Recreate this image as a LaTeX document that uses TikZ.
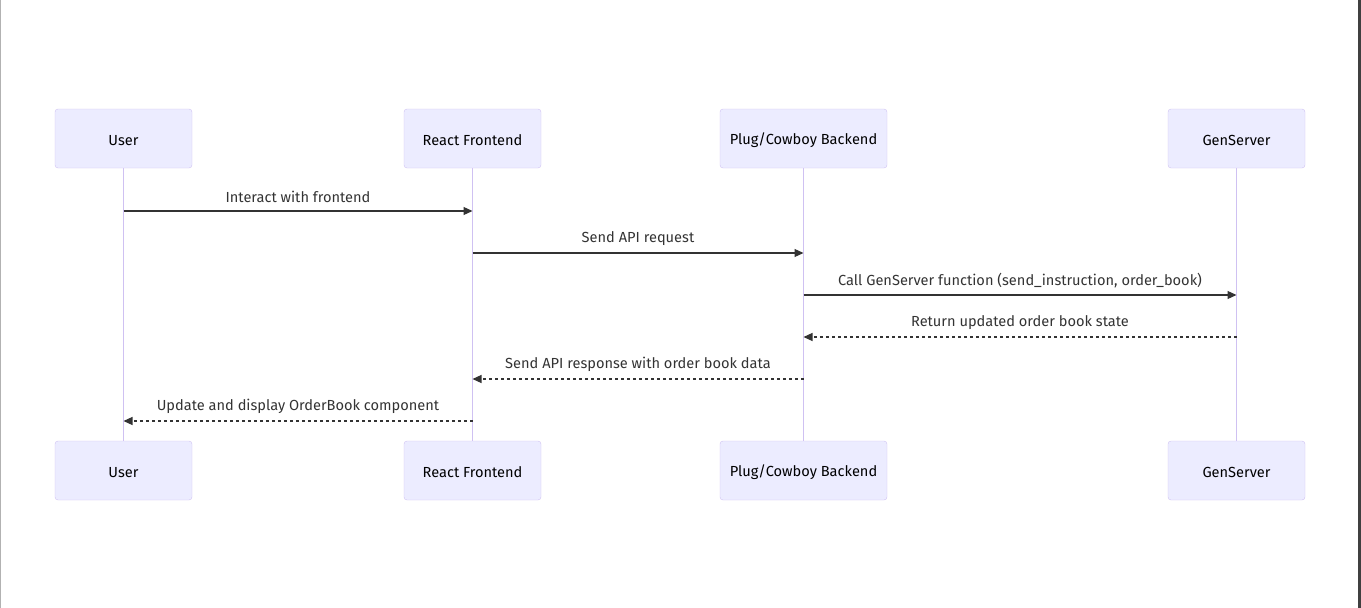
\documentclass[tikz,border=0pt]{standalone}
\usepackage{fontspec}
\setmainfont{Fira Sans}
\usetikzlibrary{arrows.meta}
\definecolor{actorfill}{HTML}{ECECFF}
\definecolor{actorline}{HTML}{CFC1F2}
\definecolor{msgline}{HTML}{333333}
\tikzset{
  actor/.style={draw=actorline, fill=actorfill, rounded corners=3pt, minimum height=59pt, inner sep=0pt, font=\fontsize{14.6}{16}\selectfont, text=black},
  life/.style={draw=actorline, line width=1.7pt},
  msg/.style={draw=msgline, line width=1.2pt, -{Triangle[length=9pt,width=8pt]}},
  reply/.style={msg, dash pattern=on 3pt off 3pt},
  msglabel/.style={font=\fontsize{14.6}{16}\selectfont, text=msgline, yshift=14.5pt}
}
\newcommand{\actorlabel}[1]{\raisebox{-2pt}[\height][\depth]{#1}}
\newcommand{\actor}[4]{ \draw[life] (#2,168) -- (#2,441); \node[actor, minimum width=#3pt] (#1top) at (#2,138.5) {\actorlabel{#4}}; \node[actor, minimum width=#3pt] (#1bot) at (#2,470.5) {\actorlabel{#4}};}
\newcommand{\seqmsg}[5]{ \draw[#1] (#2top.center |- 0,#4) -- node[msglabel] {#5} (#3top.center |- 0,#4);}
\begin{document}
\begin{tikzpicture}[x=1pt, y=-1pt]
        \useasboundingbox (0,0) rectangle (1361,608);
        % frame
        \draw[gray!60, line width=1pt] (0.5,0) -- (0.5,608);
        \fill[black!75] (1357.5,0) rectangle (1361,608);
        % actors
        \actor{user}{123.5}{137}{User}
        \actor{react}{472.5}{137}{React Frontend}
        \actor{plug}{803.5}{167}{Plug/Cowboy Backend}
        \actor{gen}{1236.5}{137}{GenServer}
        % requests
        \seqmsg{msg}{user}{react}{211}{Interact with frontend}
        \seqmsg{msg}{react}{plug}{253}{Send API request}
        \seqmsg{msg}{plug}{gen}{295}{Call GenServer function (send\_instruction, order\_book)}
        % replies
        \seqmsg{reply}{gen}{plug}{337}{Return updated order book state}
        \seqmsg{reply}{plug}{react}{379}{Send API response with order book data}
        \seqmsg{reply}{react}{user}{421}{Update and display OrderBook component}
\end{tikzpicture}
\end{document}
